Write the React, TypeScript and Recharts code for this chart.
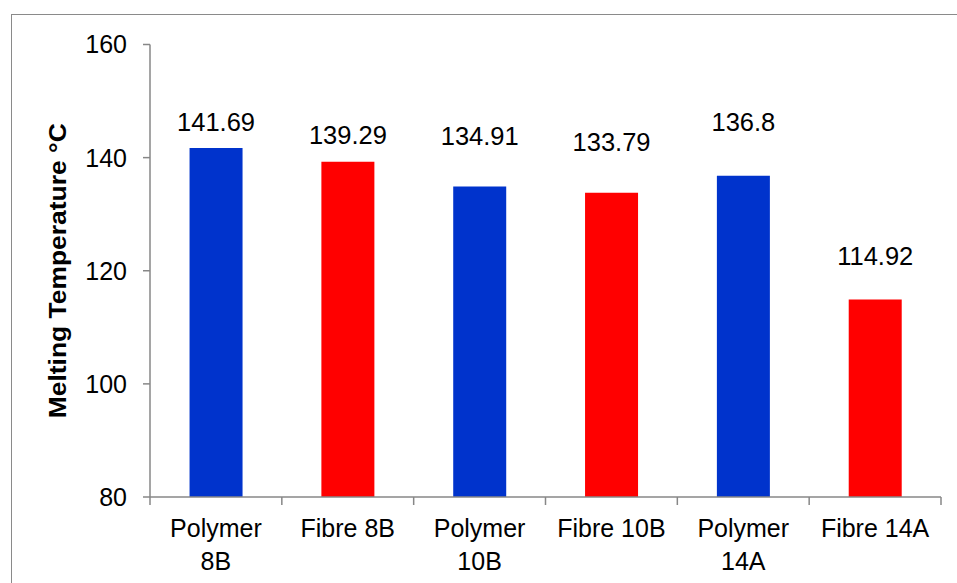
import React from 'react';
import { BarChart, Bar, XAxis, YAxis, Cell, LabelList, Label } from 'recharts';

const categories = ['Polymer 8B', 'Fibre 8B', 'Polymer 10B', 'Fibre 10B', 'Polymer 14A', 'Fibre 14A'];
const meltingTemps = [141.69, 139.29, 134.91, 133.79, 136.8, 114.92];
const barColors = ['#0033cc', '#ff0000', '#0033cc', '#ff0000', '#0033cc', '#ff0000'];
const yTicks = [80, 100, 120, 140, 160];
// distance between each value label's baseline and its bar top (px)
const labelGaps = [17, 17.5, 41, 41.5, 45, 34];

const AXIS_GREY = '#878787';
const FONT = '"Liberation Sans", Arial, sans-serif';

const data = categories.map((name, i) => ({ name, value: meltingTemps[i] }));

// "Polymer 8B" wraps onto two lines, "Fibre 8B" stays on one
function splitName(name: string): string[] {
    if (name.startsWith('Polymer')) return ['Polymer', name.slice(8)];
    return [name];
}

function CategoryTick(props: any) {
    const { x, y, payload, index, visibleTicksCount } = props;
    const half = payload.offset || 0;
    const lines = splitName(payload.value);
    const isLast = index === (visibleTicksCount ?? categories.length) - 1;
    return (
        <g>
            <line x1={x - half} x2={x - half} y1={y} y2={y + 8} stroke={AXIS_GREY} strokeWidth={1.5} />
            {isLast && (
                <line x1={x + half} x2={x + half} y1={y} y2={y + 8} stroke={AXIS_GREY} strokeWidth={1.5} />
            )}
            <text x={x} y={y + 39.5} textAnchor="middle" fontSize={25} fill="#000">
                {lines.map((ln, i) => (
                    <tspan key={i} x={x} dy={i === 0 ? 0 : 33}>{ln}</tspan>
                ))}
            </text>
        </g>
    );
}

function ValueLabel(props: any) {
    const { x, y, width, value, index } = props;
    return (
        <text x={x + width / 2} y={y - labelGaps[index]} textAnchor="middle" fontSize={25.5} fill="#000">
            {value}
        </text>
    );
}

function AxisTitle(props: any) {
    const { viewBox } = props;
    const cx = viewBox.x + 66;
    const cy = viewBox.y + viewBox.height / 2;
    return (
        <text
            x={cx}
            y={cy}
            transform={`rotate(-90, ${cx}, ${cy})`}
            textAnchor="middle"
            fontSize={23.5}
            fontWeight="bold"
            fill="#000"
            textLength={295}
            lengthAdjust="spacingAndGlyphs"
        >
            Melting Temperature °C
        </text>
    );
}

export default function App() {
    return (
        <div style={{ position: 'absolute', left: 0, top: 0, width: 957, height: 583, overflow: 'hidden', background: '#fff', fontFamily: FONT }}>
            <div style={{ position: 'absolute', left: 11, top: 14, width: 980, height: 620, border: '1.5px solid #8a8a8a' }} />
            <div style={{ position: 'absolute', left: 0, top: 0 }}>
                <BarChart
                    width={957}
                    height={583}
                    data={data}
                    margin={{ top: 44.5, right: 16, bottom: 0, left: 0 }}
                    barCategoryGap="30%"
                >
                    <XAxis
                        dataKey="name"
                        height={86}
                        interval={0}
                        tickLine={false}
                        tickSize={0}
                        tickMargin={0}
                        axisLine={{ stroke: AXIS_GREY, strokeWidth: 1.5 }}
                        tick={<CategoryTick />}
                    />
                    <YAxis
                        width={150}
                        domain={[80, 160]}
                        ticks={yTicks}
                        tickSize={7}
                        tickMargin={16}
                        axisLine={{ stroke: AXIS_GREY, strokeWidth: 1.5 }}
                        tickLine={{ stroke: AXIS_GREY, strokeWidth: 1.5 }}
                        tick={{ fontSize: 25, fill: '#000' }}
                    >
                        <Label content={<AxisTitle />} />
                    </YAxis>
                    <Bar dataKey="value" isAnimationActive={false}>
                        {data.map((d, i) => (
                            <Cell key={d.name} fill={barColors[i]} />
                        ))}
                        <LabelList dataKey="value" content={<ValueLabel />} />
                    </Bar>
                </BarChart>
            </div>
        </div>
    );
}
